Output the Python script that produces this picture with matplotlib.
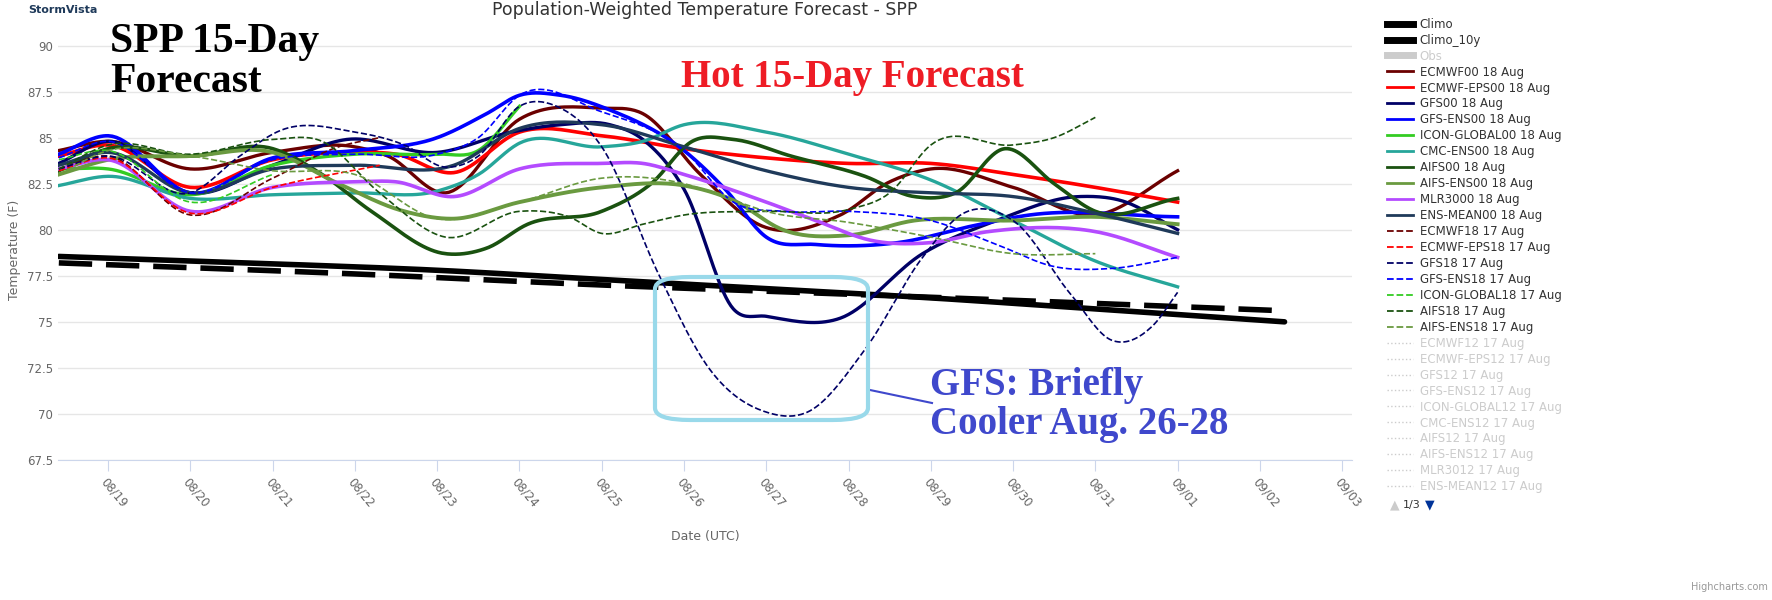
import numpy as np
import matplotlib
matplotlib.use("Agg")
import matplotlib.pyplot as plt
from matplotlib.lines import Line2D
from matplotlib.patches import FancyBboxPatch

# days since 08/19 00Z, temperatures (F)
climo_x = [-0.6, 2, 4, 6, 8, 10, 12, 14.3]
climo_y = [78.55, 78.15, 77.8, 77.3, 76.8, 76.3, 75.7, 75.0]
climo10_x = [-0.6, 3, 6, 9, 12, 14.3]
climo10_y = [78.2, 77.6, 77.0, 76.5, 76.0, 75.6]

series = [
    # label, color, style, width, points
    ("ECMWF00 18 Aug", "#6b0000", "-", 2.4,
     [(-0.6, 84.3), (0, 84.8), (1.0, 83.3), (2.0, 84.2), (3.0, 84.5), (3.4, 84.0), (4.1, 82.0), (5.0, 86.0),
      (6.0, 86.6), (6.5, 86.3), (7.2, 83.0), (7.95, 80.2), (8.9, 80.8), (9.5, 82.6), (10, 83.3), (11, 82.3),
      (12, 80.8), (13, 83.2)]),
    ("ECMWF-EPS00 18 Aug", "#ff0000", "-", 2.6,
     [(-0.6, 84.0), (0, 84.6), (1.0, 82.3), (2.0, 83.8), (3, 84.2), (3.5, 84.1), (4.2, 83.1), (5.0, 85.3),
      (6, 85.1), (7, 84.4), (8, 83.9), (9, 83.6), (10, 83.6), (11, 83.0), (12, 82.3), (13, 81.5)]),
    ("GFS00 18 Aug", "#000066", "-", 2.4,
     [(-0.6, 83.6), (0, 84.8), (1.0, 82.0), (2.0, 83.5), (2.9, 84.9), (4.0, 84.2), (4.9, 85.3), (5.5, 85.7),
      (6.1, 85.7), (6.5, 84.9), (7.0, 82.2), (7.6, 75.7), (8.0, 75.3), (8.9, 75.2), (9.9, 78.7), (10.8, 80.5),
      (11.8, 81.8), (12.3, 81.6), (13, 80.0)]),
    ("GFS-ENS00 18 Aug", "#0000ff", "-", 2.6,
     [(-0.6, 84.1), (0, 85.1), (1.0, 82.0), (2.0, 83.9), (3, 84.3), (4, 85.0), (4.6, 86.3), (5.0, 87.3),
      (5.5, 87.3), (6.1, 86.5), (7.0, 84.3), (7.5, 82.2), (8.0, 79.6), (8.6, 79.2), (9.6, 79.3), (10.5, 80.2),
      (11.2, 80.8), (13, 80.7)]),
    ("ICON-GLOBAL00 18 Aug", "#33cc22", "-", 2.4,
     [(-0.6, 83.3), (0, 83.3), (1.0, 81.9), (2.0, 83.5), (3, 84.1), (4, 84.1), (4.5, 84.3), (5.0, 86.7)]),
    ("CMC-ENS00 18 Aug", "#26a69a", "-", 2.4,
     [(-0.6, 82.4), (0, 82.9), (1.0, 81.7), (2, 81.9), (3, 82.0), (4, 82.1), (4.5, 83.0), (5.0, 84.7),
      (6, 84.5), (6.5, 84.8), (7, 85.7), (8, 85.3), (9, 84.1), (10, 82.7), (11, 80.5), (12, 78.3), (13, 76.9)]),
    ("AIFS00 18 Aug", "#1a5210", "-", 2.6,
     [(-0.6, 83.2), (0, 84.4), (1, 84.0), (2, 84.4), (2.6, 83.0), (3.2, 81.0), (4.1, 78.7), (4.6, 79.0),
      (5.1, 80.3), (6.0, 81.0), (6.6, 82.5), (7.1, 84.8), (7.6, 84.9), (8.3, 84.0), (9.2, 82.9), (9.8, 81.8),
      (10.3, 82.0), (10.9, 84.4), (11.5, 82.5), (12, 81.0), (13, 81.7)]),
    ("AIFS-ENS00 18 Aug", "#6a9a40", "-", 2.8,
     [(-0.6, 83.0), (0, 83.8), (1, 84.0), (2, 84.2), (2.8, 82.5), (3.6, 81.0), (4.2, 80.6), (5, 81.5),
      (6, 82.3), (7, 82.4), (7.6, 81.6), (8.2, 80.0), (9, 79.7), (9.8, 80.5), (11, 80.5), (12, 80.7), (13, 80.3)]),
    ("MLR3000 18 Aug", "#b44bff", "-", 2.6,
     [(-0.6, 83.3), (0, 83.8), (1, 81.0), (2, 82.3), (3, 82.6), (3.5, 82.6), (4.2, 81.8), (5, 83.3),
      (6, 83.6), (6.5, 83.6), (7, 83.0), (8, 81.5), (8.6, 80.5), (9.3, 79.4), (10, 79.3), (10.7, 79.9),
      (12, 79.9), (13, 78.5)]),
    ("ENS-MEAN00 18 Aug", "#1f3a5a", "-", 2.4,
     [(-0.6, 83.5), (0, 84.2), (1, 82.0), (2, 83.3), (3, 83.5), (4.2, 83.5), (5, 85.5), (6, 85.7), (7, 84.5),
      (8, 83.2), (9, 82.3), (10, 82.0), (11, 81.8), (12, 80.9), (13, 79.8)]),
    ("ECMWF18 17 Aug", "#6b0000", "--", 1.2,
     [(-0.6, 83.3), (0, 84.0), (1, 80.8), (2, 82.8), (2.8, 84.5), (3.3, 85.0)]),
    ("ECMWF-EPS18 17 Aug", "#ff0000", "--", 1.2,
     [(-0.6, 83.2), (0, 83.9), (1, 80.9), (2, 82.3), (3.3, 83.5)]),
    ("GFS18 17 Aug", "#000066", "--", 1.2,
     [(-0.6, 83.3), (0, 84.0), (1, 82.0), (1.6, 84.0), (2.1, 85.4), (3, 85.3), (3.6, 84.6), (4.1, 83.4),
      (4.5, 84.0), (5, 86.7), (5.5, 86.6), (6, 84.5), (6.7, 77.5), (7.3, 72.5), (8, 70.1), (8.5, 70.1),
      (9.2, 73.5), (9.9, 78.5), (10.4, 80.9), (11, 80.5), (11.7, 76.5), (12.2, 74.0), (12.7, 74.8), (13, 76.6)]),
    ("GFS-ENS18 17 Aug", "#0000ff", "--", 1.2,
     [(-0.6, 83.9), (0, 84.8), (1, 82.0), (2, 83.8), (3, 84.1), (4, 84.1), (4.5, 85.0), (5, 87.3), (6, 86.4),
      (7, 84.3), (7.6, 81.5), (8.2, 81.0), (9, 81.0), (10, 80.5), (10.8, 79.2), (11.5, 78.0), (12.2, 77.9),
      (13, 78.5)]),
    ("ICON-GLOBAL18 17 Aug", "#33cc22", "--", 1.2,
     [(-0.6, 83.8), (0, 84.3), (1, 81.5), (2, 83.0)]),
    ("AIFS18 17 Aug", "#1a5210", "--", 1.2,
     [(-0.6, 83.3), (0, 84.6), (1, 84.1), (2, 84.9), (2.6, 84.8), (3.3, 82.0), (4.1, 79.6), (5, 81.0),
      (5.6, 80.7), (6, 79.8), (6.5, 80.3), (7, 80.8), (8, 81.0), (9, 81.1), (9.5, 82.0), (10, 84.6),
      (11, 84.6), (11.5, 85.0), (12, 86.1)]),
    ("AIFS-ENS18 17 Aug", "#6a9a40", "--", 1.2,
     [(-0.6, 83.0), (0, 84.3), (1, 84.0), (2, 83.2), (3, 83.0), (4, 80.6), (5, 81.5), (6, 82.8), (7, 82.5),
      (7.6, 81.6), (8, 81.0), (9, 80.4), (10, 79.6), (11, 78.7), (12, 78.7)]),
]

hidden = ["ECMWF12 17 Aug", "ECMWF-EPS12 17 Aug", "GFS12 17 Aug", "GFS-ENS12 17 Aug",
          "ICON-GLOBAL12 17 Aug", "CMC-ENS12 17 Aug", "AIFS12 17 Aug", "AIFS-ENS12 17 Aug",
          "MLR3012 17 Aug", "ENS-MEAN12 17 Aug"]

tick_labels = ["08/19", "08/20", "08/21", "08/22", "08/23", "08/24", "08/25", "08/26",
               "08/27", "08/28", "08/29", "08/30", "08/31", "09/01", "09/02", "09/03"]
y_ticks = [67.5, 70, 72.5, 75, 77.5, 80, 82.5, 85, 87.5, 90]


def spline(xs, ys, n=20):
    # cubic hermite through points, like highcharts "spline" drawing
    xs = np.asarray(xs, float)
    ys = np.asarray(ys, float)
    m = np.gradient(ys, xs)
    outx, outy = [], []
    for i in range(len(xs) - 1):
        h = xs[i + 1] - xs[i]
        t = np.linspace(0, 1, n, endpoint=False)
        h00 = 2 * t**3 - 3 * t**2 + 1
        h10 = t**3 - 2 * t**2 + t
        h01 = -2 * t**3 + 3 * t**2
        h11 = t**3 - t**2
        outx.append(xs[i] + t * h)
        outy.append(h00 * ys[i] + h10 * h * m[i] + h01 * ys[i + 1] + h11 * h * m[i + 1])
    outx.append([xs[-1]])
    outy.append([ys[-1]])
    return np.concatenate(outx), np.concatenate(outy)


fig = plt.figure(figsize=(17.72, 6), dpi=100)
ax = fig.add_axes([58 / 1772, 1 - 460 / 600, (1352 - 58) / 1772, (460 - 40) / 600])

ax.plot(*spline(climo_x, climo_y), color="black", lw=4, solid_capstyle="round", zorder=3)
ax.plot(*spline(climo10_x, climo10_y), color="black", lw=4, dashes=(6, 2.5), zorder=3)

for label, color, ls, lw, pts in series:
    xs, ys = zip(*pts)
    ax.plot(*spline(xs, ys), color=color, ls=ls, lw=lw, zorder=4 if ls == "-" else 5)

ax.set_xlim(-0.61, 15.12)
ax.set_ylim(67.5, 90.3)
ax.set_yticks(y_ticks)
ax.set_yticklabels([f"{v:g}" for v in y_ticks])
ax.set_xticks(range(len(tick_labels)))
ax.set_xticklabels(tick_labels, rotation=-50, ha="left", rotation_mode="anchor")
ax.tick_params(axis="y", length=0, labelsize=8.5, colors="#666666")
ax.tick_params(axis="x", length=8, color="#ccd6eb", labelsize=8.5, colors="#666666")
ax.grid(axis="y", color="#e6e6e6", lw=1)
ax.set_axisbelow(True)
for s in ["top", "right", "left"]:
    ax.spines[s].set_visible(False)
ax.spines["bottom"].set_color("#ccd6eb")
ax.set_xlabel("Date (UTC)", color="#666666", fontsize=9, labelpad=14)
ax.set_ylabel("Temperature (F)", color="#666666", fontsize=9)
ax.set_title("Population-Weighted Temperature Forecast - SPP", color="#333333", fontsize=12.5, pad=18)

# annotations
serif = "Liberation Serif"
fig.text(110 / 1772, 1 - 62 / 600, "SPP 15-Day\nForecast", family=serif, weight="bold", fontsize=30,
         va="center", ha="left", linespacing=1.05)
fig.text(852 / 1772, 1 - 78 / 600, "Hot 15-Day Forecast", family=serif, weight="bold", fontsize=28,
         color="#ee1c25", ha="center", va="center")
fig.text(930 / 1772, 1 - 405 / 600, "GFS: Briefly\nCooler Aug. 26-28", family=serif, weight="bold",
         fontsize=28, color="#3f48cc", ha="left", va="center", linespacing=1.05)
box = FancyBboxPatch((655 / 1772, 1 - 420 / 600), 213 / 1772, 143 / 600,
                     boxstyle="round,pad=0,rounding_size=0.02", transform=fig.transFigure,
                     fill=False, ec="#99d9ea", lw=3, zorder=10)
fig.patches.append(box)
fig.add_artist(Line2D([870 / 1772, 932 / 1772], [1 - 390 / 600, 1 - 403 / 600],
                      transform=fig.transFigure, color="#3f48cc", lw=1.5))
fig.text(28 / 1772, 1 - 10 / 600, "StormVista", fontsize=8, weight="bold", color="#1f3a5a", va="center")
fig.text(1768 / 1772, 1 - 590 / 600, "Highcharts.com", fontsize=7, color="#999999", ha="right")

# legend
handles = [Line2D([], [], color="black", lw=5), Line2D([], [], color="black", lw=5),
           Line2D([], [], color="#cccccc", lw=5)]
labels = ["Climo", "Climo_10y", "Obs"]
for label, color, ls, lw, pts in series:
    handles.append(Line2D([], [], color=color, ls=ls, lw=2 if ls == "-" else 1.3))
    labels.append(label)
for h in hidden:
    handles.append(Line2D([], [], color="#cccccc", ls=":", lw=1))
    labels.append(h)
leg = fig.legend(handles, labels, loc="upper left", bbox_to_anchor=(1382 / 1772, 1 - 13 / 600),
                 frameon=False, fontsize=8.5, labelspacing=0.25, handlelength=2.2, handletextpad=0.6,
                 borderaxespad=0)
for i, t in enumerate(leg.get_texts()):
    t.set_color("#cccccc" if (i == 2 or i >= 3 + len(series)) else "#333333")
fig.text(1390 / 1772, 1 - 505 / 600, "\u25b2", color="#cccccc", fontsize=9, va="center")
fig.text(1403 / 1772, 1 - 505 / 600, "1/3", color="#333333", fontsize=8, va="center")
fig.text(1425 / 1772, 1 - 505 / 600, "\u25bc", color="#003399", fontsize=9, va="center")

fig.savefig("out.png", dpi=100)
